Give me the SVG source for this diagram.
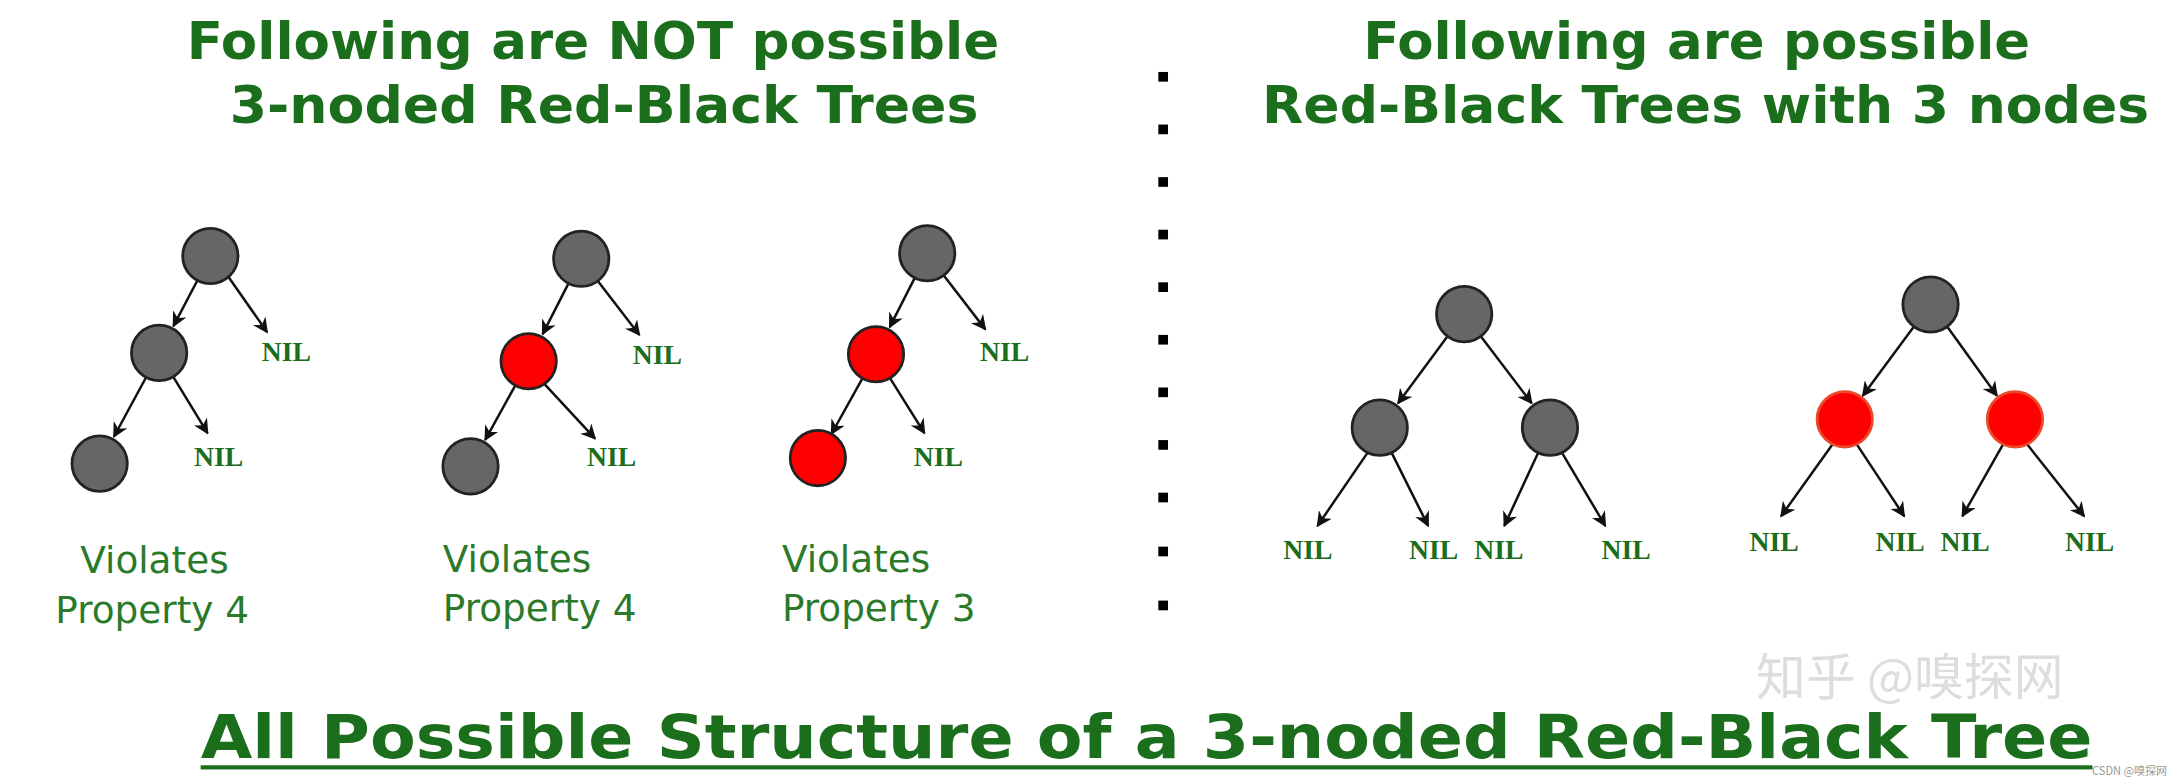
<svg xmlns="http://www.w3.org/2000/svg" width="2170" height="784" viewBox="0 0 2170 784">
<style>
.title{font-family:"DejaVu Sans",Verdana,sans-serif;font-weight:bold;fill:#1b6e1b}
.nil{font-family:"Liberation Serif",serif;font-weight:bold;font-size:20px;fill:#1b6e1b;text-anchor:middle}
.lbl{font-family:"DejaVu Sans",Verdana,sans-serif;font-size:27px;fill:#2a7a2a}
.b{fill:#666;stroke:#222;stroke-width:2}
.r{fill:#f00;stroke:#222;stroke-width:2}
.r2{fill:#f00;stroke:#e84a2a;stroke-width:2}
.e line{stroke:#111;stroke-width:1.8;marker-end:url(#ah)}
.dot{fill:#000}
</style>
<defs>
<marker id="ah" viewBox="0 0 10 10" refX="9" refY="5" markerWidth="11" markerHeight="11" markerUnits="userSpaceOnUse" orient="auto">
<path d="M0,0 L10,5 L0,10 L3,5 z" fill="#111"/>
</marker>
</defs>
<rect width="2170" height="784" fill="#fff"/>
<g transform="scale(1.3839)">
<text class="title" x="135" y="43" font-size="37" textLength="587" lengthAdjust="spacingAndGlyphs">Following are NOT possible</text>
<text class="title" x="166" y="89" font-size="37" textLength="541" lengthAdjust="spacingAndGlyphs">3-noded Red-Black Trees</text>
<text class="title" x="985" y="43" font-size="37" textLength="482" lengthAdjust="spacingAndGlyphs">Following are possible</text>
<text class="title" x="912" y="89" font-size="37" textLength="641" lengthAdjust="spacingAndGlyphs">Red-Black Trees with 3 nodes</text>
<g id="sep">
<rect class="dot" x="837" y="52" width="7" height="7"/><rect class="dot" x="837" y="90" width="7" height="7"/><rect class="dot" x="837" y="128" width="7" height="7"/><rect class="dot" x="837" y="166" width="7" height="7"/><rect class="dot" x="837" y="204" width="7" height="7"/><rect class="dot" x="837" y="242" width="7" height="7"/><rect class="dot" x="837" y="280" width="7" height="7"/><rect class="dot" x="837" y="318" width="7" height="7"/><rect class="dot" x="837" y="356" width="7" height="7"/><rect class="dot" x="837" y="395" width="7" height="7"/><rect class="dot" x="837" y="434" width="7" height="7"/>
</g>
<g id="connectors" class="e">
<line x1="142.6" y1="202.7" x2="125.3" y2="235.6"/><line x1="165" y1="200" x2="193" y2="240"/>
<line x1="105.6" y1="272.6" x2="82.3" y2="315.6"/><line x1="125" y1="272" x2="150" y2="313"/>
<line x1="410.8" y1="204.8" x2="392.1" y2="241.4"/><line x1="432" y1="203" x2="462" y2="242"/>
<line x1="372.4" y1="278.4" x2="350.6" y2="317.9"/><line x1="393" y1="277" x2="430" y2="317"/>
<line x1="661" y1="200.8" x2="642.9" y2="236.4"/><line x1="682" y1="199" x2="712" y2="238"/>
<line x1="623.2" y1="273.4" x2="600.8" y2="313.6"/><line x1="643" y1="273" x2="668" y2="313"/>
<line x1="1046" y1="243" x2="1010.2" y2="291.4"/><line x1="1070" y1="243" x2="1106.8" y2="291.4"/>
<line x1="989" y1="326" x2="952" y2="380"/><line x1="1005" y1="326" x2="1032" y2="380"/>
<line x1="1112" y1="326" x2="1087" y2="380"/><line x1="1128" y1="326" x2="1160" y2="380"/>
<line x1="1383" y1="236" x2="1346" y2="286"/><line x1="1407" y1="236" x2="1443" y2="286"/>
<line x1="1325" y1="320" x2="1287" y2="373"/><line x1="1341" y1="320" x2="1376" y2="373"/>
<line x1="1448" y1="320" x2="1418" y2="373"/><line x1="1464" y1="320" x2="1506" y2="373"/>
</g>
<g id="t1">
<circle class="b" cx="152" cy="185" r="20"/>
<circle class="b" cx="115" cy="255" r="20"/>
<circle class="b" cx="72" cy="335" r="20"/>
<text class="nil" x="207" y="261">NIL</text><text class="nil" x="158" y="337">NIL</text>
<text class="lbl" x="58" y="414">Violates</text><text class="lbl" x="40" y="450">Property 4</text>
</g>
<g id="t2">
<circle class="b" cx="420" cy="187" r="20"/>
<circle class="r" cx="382" cy="261" r="20"/>
<circle class="b" cx="340" cy="337" r="20"/>
<text class="nil" x="475" y="263">NIL</text><text class="nil" x="442" y="337">NIL</text>
<text class="lbl" x="320" y="413">Violates</text><text class="lbl" x="320" y="449">Property 4</text>
</g>
<g id="t3">
<circle class="b" cx="670" cy="183" r="20"/>
<circle class="r" cx="633" cy="256" r="20"/>
<circle class="r" cx="591" cy="331" r="20"/>
<text class="nil" x="726" y="261">NIL</text><text class="nil" x="678" y="337">NIL</text>
<text class="lbl" x="565" y="413">Violates</text><text class="lbl" x="565" y="449">Property 3</text>
</g>
<g id="t4">
<circle class="b" cx="1058" cy="227" r="20"/>
<circle class="b" cx="997" cy="309" r="20"/>
<circle class="b" cx="1120" cy="309" r="20"/>
<text class="nil" x="945" y="404">NIL</text><text class="nil" x="1036" y="404">NIL</text><text class="nil" x="1083" y="404">NIL</text><text class="nil" x="1175" y="404">NIL</text>
</g>
<g id="t5">
<circle class="b" cx="1395" cy="220" r="20"/>
<circle class="r2" cx="1333" cy="303" r="20"/>
<circle class="r2" cx="1456" cy="303" r="20"/>
<text class="nil" x="1282" y="398">NIL</text><text class="nil" x="1373" y="398">NIL</text><text class="nil" x="1420" y="398">NIL</text><text class="nil" x="1510" y="398">NIL</text>
</g>
<text x="1380" y="502" font-family="Noto Sans CJK SC,sans-serif" font-size="36" fill="#ddd" text-anchor="middle">知乎 @嗅探网</text>
<text class="title" x="145" y="548" font-size="44" textLength="1367" lengthAdjust="spacingAndGlyphs">All Possible Structure of a 3-noded Red-Black Tree</text>
<rect x="145" y="553" width="1367" height="3" fill="#1b6e1b"/>
<text x="1566" y="560" font-family="Noto Sans CJK SC,sans-serif" font-size="8" fill="#999" text-anchor="end">CSDN @嗅探网</text>
</g>
</svg>
